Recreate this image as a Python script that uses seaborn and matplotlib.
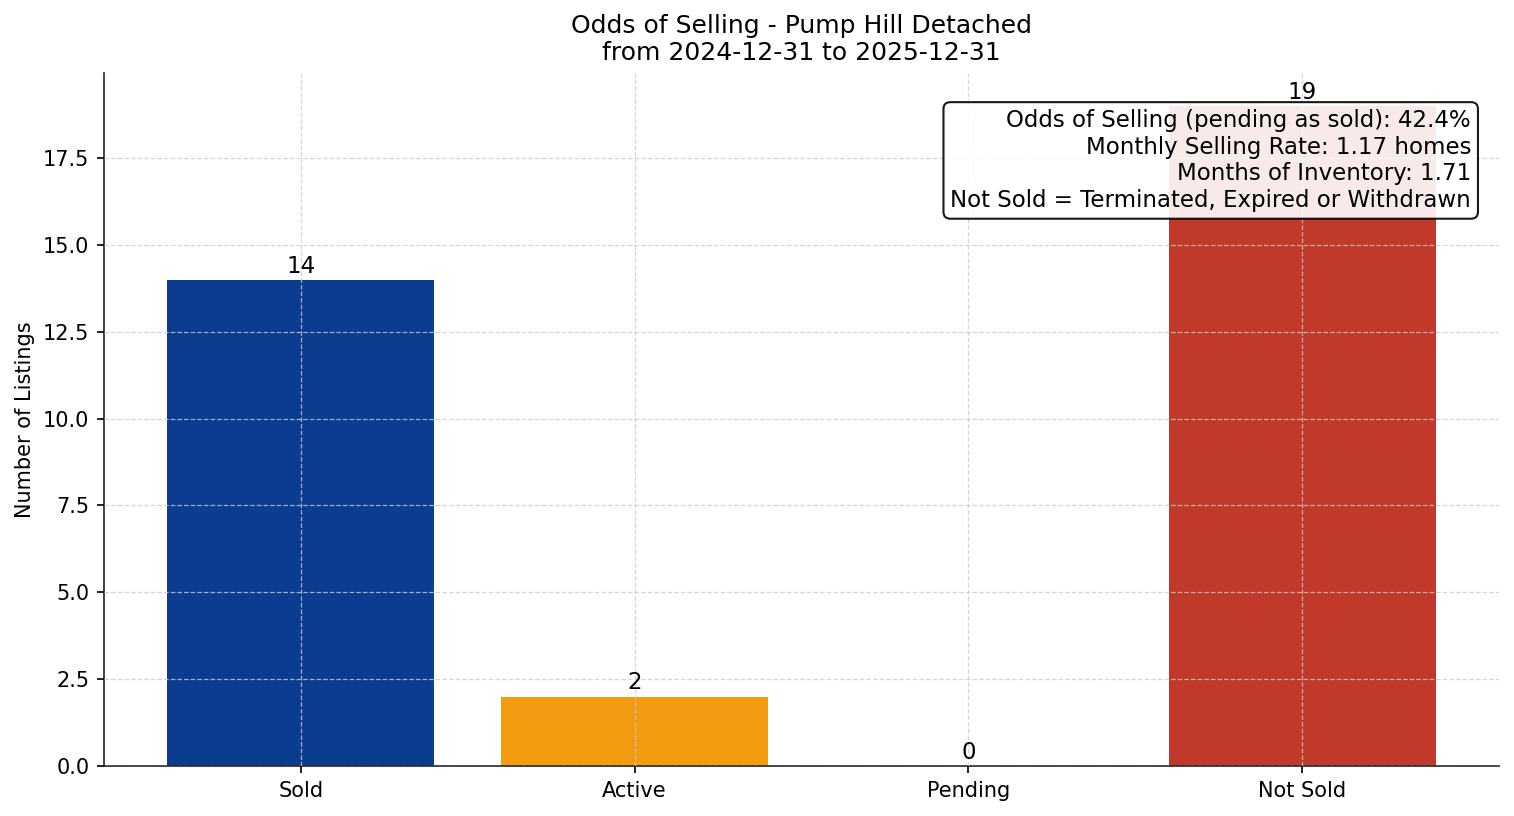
import matplotlib
matplotlib.use("Agg")
import matplotlib.pyplot as plt
import seaborn as sns
import pandas as pd

categories = ["Sold", "Active", "Pending", "Not Sold"]
counts = [14, 2, 0, 19]
colors = ["#0B3C8F", "#F39C12", "#2E86C1", "#C0392B"]
title = "Odds of Selling - Pump Hill Detached\nfrom 2024-12-31 to 2025-12-31"
info_lines = [
    "Odds of Selling (pending as sold): 42.4%",
    "Monthly Selling Rate: 1.17 homes",
    "Months of Inventory: 1.71",
    "Not Sold = Terminated, Expired or Withdrawn",
]

plt.rcParams['font.family'] = ['DejaVu Sans']
df = pd.DataFrame({"Status": categories, "Count": counts})

fig = plt.figure(figsize=(1514 / 150, 816 / 150), dpi=150)
ax = fig.add_axes([104 / 1514, 1 - 766 / 816, (1499 - 104) / 1514, (766 - 73) / 816])

sns.barplot(data=df, x="Status", y="Count", hue="Status", palette=colors,
            order=categories, hue_order=categories, legend=False, ax=ax,
            width=0.8, saturation=1, errorbar=None)

for c in ax.containers:
    ax.bar_label(c, labels=[f"{int(v)}" for v in c.datavalues], fontsize=11, padding=1)

ax.set_xlim(-0.59, 3.59)
ax.set_ylim(0, 19.95)
ax.set_xlabel("")
ax.set_ylabel("Number of Listings", fontsize=10)
ax.set_title(title, fontsize=12)
ax.grid(True, linestyle="--", linewidth=0.6, color="#cccccc", alpha=0.8)
ax.set_axisbelow(False)
for s in ["top", "right"]:
    ax.spines[s].set_visible(False)
for s in ["left", "bottom"]:
    ax.spines[s].set_color("#222222")

ax.text(0.98, 0.948, "\n".join(info_lines), transform=ax.transAxes, ha="right", va="top",
        fontsize=11, bbox=dict(boxstyle="round,pad=0.3", facecolor="white", edgecolor="black", alpha=0.9))

fig.savefig("out.png", dpi=150)
